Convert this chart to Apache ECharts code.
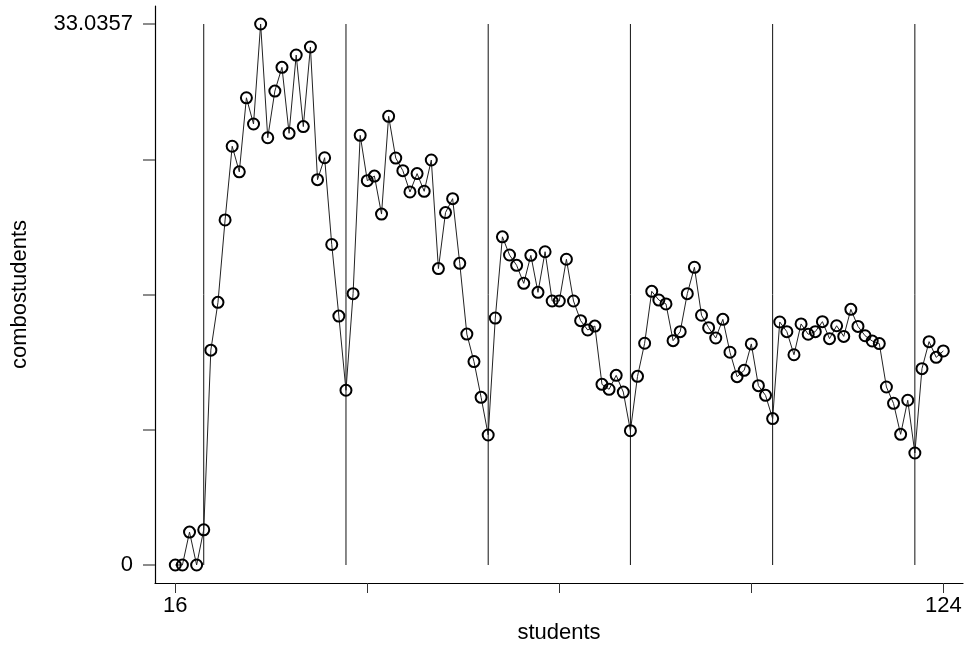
<!DOCTYPE html>
<html>
<head>
<meta charset="utf-8">
<script src="https://cdn.jsdelivr.net/npm/echarts@6/dist/echarts.min.js"></script>
<style>
html,body{margin:0;padding:0;background:#fff;}
#chart{width:967px;height:668px;}
</style>
</head>
<body>
<div id="chart"></div>
<script>
var students = [16,17,18,19,20,21,22,23,24,25,26,27,28,29,30,31,32,33,34,35,36,37,38,39,40,
  41,42,43,44,45,46,47,48,49,50,51,52,53,54,55,56,57,58,59,60,
  61,62,63,64,65,66,67,68,69,70,71,72,73,74,75,76,77,78,79,80,
  81,82,83,84,85,86,87,88,89,90,91,92,93,94,95,96,97,98,99,100,
  101,102,103,104,105,106,107,108,109,110,111,112,113,114,115,116,117,118,119,120,
  121,122,123,124];
var combostudents = [0,0,2.01,0,2.15,13.12,16.04,21.07,25.57,24.01,28.53,26.93,33.0357,26.09,28.94,30.39,26.36,31.14,26.77,31.63,23.53,24.87,19.57,15.2,10.67,
  16.57,26.24,23.47,23.75,21.43,27.4,24.85,24.08,22.78,23.9,22.82,24.73,18.1,21.52,22.37,18.42,14.1,12.42,10.24,7.94,
  15.08,20.04,18.93,18.3,17.2,18.91,16.65,19.13,16.12,16.12,18.67,16.12,14.92,14.35,14.59,11.03,10.73,11.58,10.56,8.2,
  11.52,13.54,16.71,16.18,15.94,13.7,14.25,16.57,18.18,15.25,14.49,13.86,15.0,12.99,11.5,11.89,13.5,10.95,10.36,8.94,
  14.84,14.25,12.84,14.72,14.09,14.25,14.86,13.82,14.61,13.96,15.61,14.57,14.0,13.68,13.52,10.87,9.87,7.98,10.06,6.84,
  11.99,13.64,12.68,13.07];
var refLines = [20,40,60,80,100,120];
var yTicks = [0, 8.258925, 16.51785, 24.776775, 33.0357];
var yLabels = [0, 33.0357];
var xTicks = [16, 43, 70, 97, 124];
var xLabels = [16, 124];
var yTop = 33.0357;

var font = '"Liberation Sans", Arial, sans-serif';
var chart = echarts.init(document.getElementById('chart'), null, {renderer: 'canvas'});

var series = [];
refLines.forEach(function (x) {
  series.push({
    type: 'line',
    data: [[x, 0], [x, yTop]],
    symbol: 'none',
    silent: true,
    lineStyle: {color: '#111', width: 1},
    z: 1
  });
});
series.push({
  type: 'line',
  data: students.map(function (s, i) { return [s, combostudents[i]]; }),
  symbol: 'circle',
  symbolSize: 11,
  lineStyle: {color: '#222', width: 1},
  itemStyle: {color: 'rgba(0,0,0,0)', borderColor: '#000', borderWidth: 2},
  z: 3
});

chart.setOption({
  animation: false,
  backgroundColor: '#fff',
  textStyle: {fontFamily: font},
  grid: {left: 155, right: 4, top: 6, bottom: 85, containLabel: false},
  xAxis: {
    type: 'value',
    min: 13.145,
    max: 126.77,
    name: 'students',
    nameLocation: 'middle',
    nameGap: 38,
    nameTextStyle: {fontSize: 22, color: '#000', fontFamily: font},
    splitLine: {show: false},
    axisLine: {show: true, onZero: false, lineStyle: {color: '#000', width: 1.2}},
    axisTick: {show: true, length: 10, customValues: xTicks, lineStyle: {color: '#333', width: 1}},
    axisLabel: {customValues: xLabels, fontSize: 22, color: '#000', margin: 12, fontFamily: font}
  },
  yAxis: {
    type: 'value',
    min: -1.099,
    max: 34.135,
    name: 'combostudents',
    nameLocation: 'middle',
    nameGap: 124,
    nameRotate: 90,
    nameTextStyle: {fontSize: 22, color: '#000', fontFamily: font},
    splitLine: {show: false},
    axisLine: {show: true, onZero: false, lineStyle: {color: '#000', width: 1.2}},
    axisTick: {show: true, length: 12, customValues: yTicks, lineStyle: {color: '#666', width: 1.5}},
    axisLabel: {customValues: yLabels, fontSize: 22, color: '#000', margin: 22, fontFamily: font,
      formatter: function (v) { return String(v); }}
  },
  series: series
});
</script>
</body>
</html>
